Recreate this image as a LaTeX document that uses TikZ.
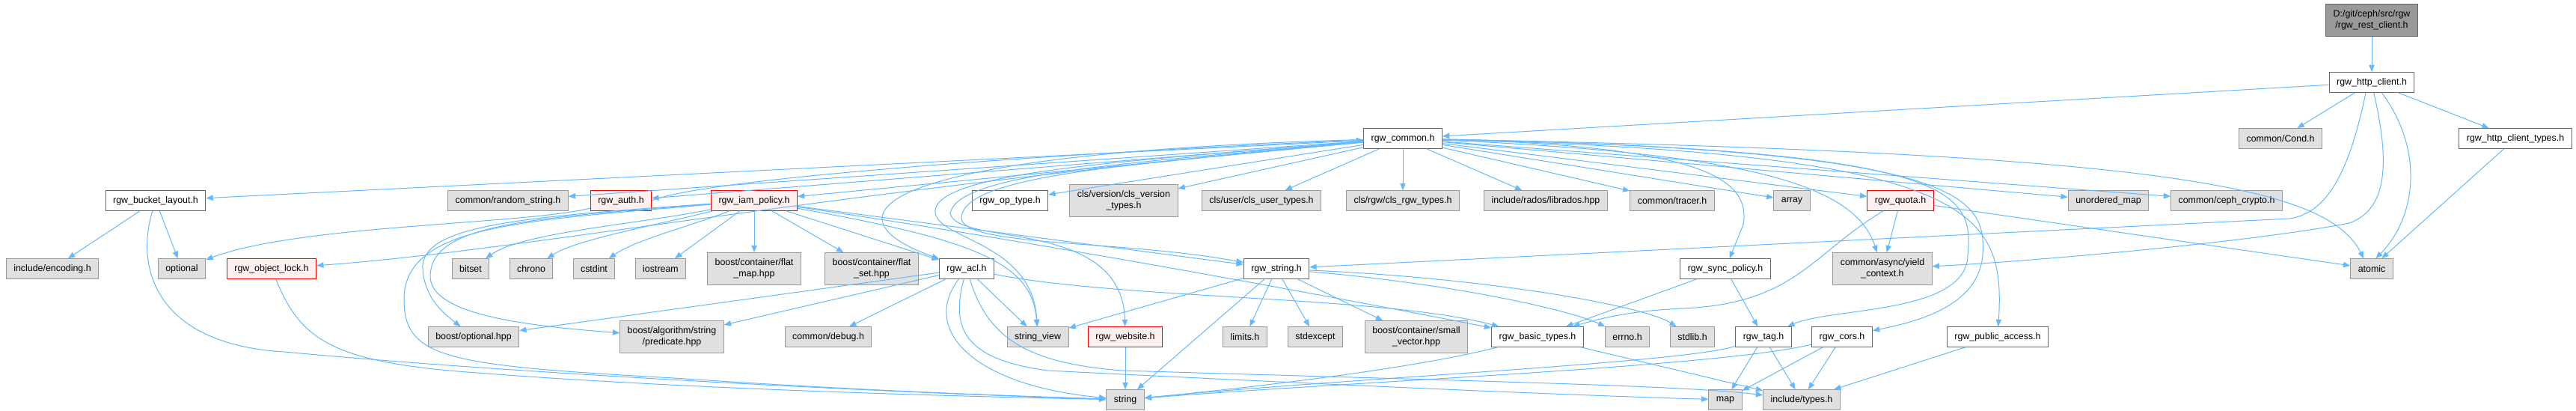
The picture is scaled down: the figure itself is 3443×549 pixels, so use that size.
\documentclass[tikz,border=0pt]{standalone}
\usepackage{fontspec}
\setsansfont{Liberation Sans}
\usetikzlibrary{arrows.meta}
\definecolor{edgeblue}{HTML}{63B8FF}
\definecolor{sysfill}{HTML}{E0E0E0}
\definecolor{sysline}{HTML}{999999}
\definecolor{hdrline}{HTML}{666666}
\definecolor{cutfill}{HTML}{FFF0F0}
\definecolor{cutline}{HTML}{FF0000}
\definecolor{rootfill}{HTML}{999999}
\tikzset{box/.style={draw,line width=0.75pt,align=center,minimum height=20pt,inner xsep=7.5pt,inner ysep=2pt,font=\sffamily\fontsize{9.3}{11}\selectfont},sys/.style={box,fill=sysfill,draw=sysline},hdr/.style={box,fill=white,draw=hdrline},cut/.style={box,fill=cutfill,draw=cutline},top/.style={box,fill=rootfill,draw=hdrline},tall/.style={minimum height=32pt},dep/.style={-{Triangle[length=7pt,width=5.5pt]},draw=edgeblue,line width=0.75pt}}

\begin{document}
\begin{tikzpicture}[x=0.75pt,y=-0.75pt]
\useasboundingbox (0,0) rectangle (3443,549);
% top of the graph
\node[top,tall] (root) at (3170,27) {D:/git/ceph/src/rgw\\/rgw\_rest\_client.h};
\node[hdr] (http) at (3170,110) {rgw\_http\_client.h};
\node[hdr] (common) at (1875,185) {rgw\_common.h};
\node[sys] (cond) at (3048,185) {common/Cond.h};
\node[hdr] (httptypes) at (3362,185) {rgw\_http\_client\_types.h};
% second row
\node[hdr] (bucket) at (208,268) {rgw\_bucket\_layout.h};
\node[sys] (randstr) at (679,268) {common/random\_string.h};
\node[cut] (auth) at (830,268) {rgw\_auth.h};
\node[cut] (iam) at (1008,268) {rgw\_iam\_policy.h};
\node[hdr] (optype) at (1350,268) {rgw\_op\_type.h};
\node[sys,tall] (clsver) at (1502,268) {cls/version/cls\_version\\\_types.h};
\node[sys] (clsuser) at (1686,268) {cls/user/cls\_user\_types.h};
\node[sys] (clsrgw) at (1875,268) {cls/rgw/cls\_rgw\_types.h};
\node[sys] (librados) at (2066,268) {include/rados/librados.hpp};
\node[sys] (tracer) at (2235,268) {common/tracer.h};
\node[sys] (array) at (2395,268) {array};
\node[cut] (quota) at (2540,268) {rgw\_quota.h};
\node[sys] (umap) at (2818,268) {unordered\_map};
\node[sys] (crypto) at (2976,268) {common/ceph\_crypto.h};
% third row
\node[sys] (encoding) at (70,359) {include/encoding.h};
\node[sys] (optional) at (243,359) {optional};
\node[cut] (objlock) at (363,359) {rgw\_object\_lock.h};
\node[sys] (bitset) at (629,359) {bitset};
\node[sys] (chrono) at (710,359) {chrono};
\node[sys] (cstdint) at (794,359) {cstdint};
\node[sys] (iostream) at (883,359) {iostream};
\node[sys,tall] (flatmap) at (1008,359) {boost/container/flat\\\_map.hpp};
\node[sys,tall] (flatset) at (1165,359) {boost/container/flat\\\_set.hpp};
\node[hdr] (acl) at (1292,359) {rgw\_acl.h};
\node[hdr] (rstring) at (1706,359) {rgw\_string.h};
\node[hdr] (syncpol) at (2306,359) {rgw\_sync\_policy.h};
\node[sys,tall] (yield) at (2516,359) {common/async/yield\\\_context.h};
\node[sys] (atomic) at (3170,359) {atomic};
% fourth row
\node[sys] (boptional) at (633,450) {boost/optional.hpp};
\node[sys,tall] (predicate) at (898,450) {boost/algorithm/string\\/predicate.hpp};
\node[sys] (debug) at (1107,450) {common/debug.h};
\node[sys] (strview) at (1387,450) {string\_view};
\node[cut] (website) at (1504,450) {rgw\_website.h};
\node[sys] (limits) at (1664,450) {limits.h};
\node[sys] (stdexcept) at (1758,450) {stdexcept};
\node[sys,tall] (smallvec) at (1893,450) {boost/container/small\\\_vector.hpp};
\node[hdr] (basic) at (2055,450) {rgw\_basic\_types.h};
\node[sys] (errno) at (2175,450) {errno.h};
\node[sys] (stdlib) at (2262,450) {stdlib.h};
\node[hdr] (tag) at (2357,450) {rgw\_tag.h};
\node[hdr] (cors) at (2462,450) {rgw\_cors.h};
\node[hdr] (pubacc) at (2670,450) {rgw\_public\_access.h};
% bottom row
\node[sys] (string) at (1504,534) {string};
\node[sys] (map) at (2306,534) {map};
\node[sys] (types) at (2408,534) {include/types.h};

% rgw_rest_client.h and rgw_http_client.h
\draw[dep] (root)--(http);
\draw[dep] (http)--(common); \draw[dep] (http)--(cond); \draw[dep] (http)--(httptypes);
\draw[dep] ([xshift=-6pt]http.south) .. controls (3140,230) and (3110,285) .. (3060,292) -- (rstring);
\draw[dep] ([xshift=2pt]http.south) .. controls (3195,220) and (3190,280) .. (3140,298) .. controls (3000,325) and (2700,350) .. (yield);
\draw[dep] ([xshift=10pt]http.south) .. controls (3240,200) and (3230,290) .. ([xshift=4pt]atomic.north);
\draw[dep] (httptypes)--([xshift=10pt]atomic.north);
% rgw_common.h
\draw[dep] (common)--(bucket); \draw[dep] (common)--(randstr); \draw[dep] (common)--(auth);
\draw[dep] (common)--(iam); \draw[dep] (common)--(optype); \draw[dep] (common)--(clsver);
\draw[dep] (common)--(clsuser); \draw[dep] (common)--(clsrgw); \draw[dep] (common)--(librados);
\draw[dep] (common)--(tracer); \draw[dep] (common)--(array); \draw[dep] (common)--(quota);
\draw[dep] (common)--(umap); \draw[dep] (common)--(crypto);
\draw[dep] (common) .. controls (2900,205) and (3110,250) .. ([xshift=-8pt]atomic.north);
\draw[dep] (common) .. controls (1100,255) and (700,335) .. (objlock);
\draw[dep] (common) .. controls (1150,205) and (1100,290) .. (acl);
\draw[dep] (common) .. controls (1500,215) and (1260,230) .. (1250,280) .. controls (1245,320) and (1380,320) .. (strview);
\draw[dep] (common) .. controls (1500,218) and (1280,232) .. (1270,285) .. controls (1280,330) and (1500,290) .. (website);
\draw[dep] (common) .. controls (1500,220) and (1290,235) .. (1285,290) .. controls (1282,330) and (1500,320) .. (rstring);
\draw[dep] (common) .. controls (2280,195) and (2340,240) .. (2330,300) -- (syncpol);
\draw[dep] (common) .. controls (2350,205) and (2480,250) .. (yield);
\draw[dep] (common) .. controls (2600,200) and (2640,250) .. (2630,340) .. controls (2630,420) and (2450,410) .. (tag);
\draw[dep] (common) .. controls (2620,200) and (2655,260) .. (2650,340) .. controls (2645,410) and (2560,430) .. (cors);
\draw[dep] (common) .. controls (2640,205) and (2680,280) .. (pubacc);
% second row
\draw[dep] (auth.east) .. controls (950,235) and (1500,200) .. (common);
\draw[dep] (auth) .. controls (700,300) and (400,300) .. (optional);
\draw[dep] (bucket)--(encoding); \draw[dep] (bucket)--(optional);
\draw[dep] (bucket) .. controls (180,360) and (210,460) .. (380,470) .. controls (700,500) and (1200,525) .. (string);
\draw[dep] (iam) .. controls (850,300) and (700,310) .. (bitset);
\draw[dep] (iam) .. controls (880,300) and (770,320) .. (chrono);
\draw[dep] (iam) .. controls (930,300) and (850,320) .. (cstdint);
\draw[dep] (iam)--(iostream); \draw[dep] (iam)--(flatmap); \draw[dep] (iam)--(flatset);
\draw[dep] (iam)--(acl); \draw[dep] (iam)--(rstring);
\draw[dep] (iam) .. controls (1400,325) and (1800,400) .. (basic);
\draw[dep] (iam) .. controls (1300,320) and (1380,350) .. (strview);
\draw[dep] (iam) .. controls (700,290) and (560,300) .. (565,360) .. controls (568,400) and (595,420) .. (boptional);
\draw[dep] (iam) .. controls (700,292) and (575,300) .. (575,370) .. controls (577,420) and (700,435) .. (predicate);
\draw[dep] (iam) .. controls (700,295) and (540,300) .. (540,400) .. controls (540,480) and (600,488) .. (900,505) .. controls (1200,525) and (1400,530) .. (string);
\draw[dep] (quota)--(atomic); \draw[dep] (quota)--(yield);
\draw[dep] (quota) .. controls (2420,340) and (2400,405) .. (2250,412) .. controls (2180,415) and (2140,425) .. (basic);
% third row
\draw[dep] (objlock) .. controls (400,450) and (440,480) .. (600,495) .. controls (900,520) and (1300,530) .. (string);
\draw[dep] (acl)--(predicate); \draw[dep] (acl)--(boptional); \draw[dep] (acl)--(debug); \draw[dep] (acl)--(strview);
\draw[dep] (acl) .. controls (1230,440) and (1300,515) .. (string);
\draw[dep] (acl) .. controls (1270,440) and (1290,480) .. (1400,495) .. controls (1800,515) and (2100,528) .. (map);
\draw[dep] (acl) .. controls (1320,450) and (1370,485) .. (1500,495) .. controls (2000,510) and (2250,515) .. (types);
\draw[dep] (acl) .. controls (1500,400) and (1850,395) .. (basic);
\draw[dep] (rstring)--(strview); \draw[dep] (rstring)--(string); \draw[dep] (rstring)--(limits);
\draw[dep] (rstring)--(stdexcept); \draw[dep] (rstring)--(smallvec);
\draw[dep] (rstring) .. controls (1950,380) and (2100,415) .. (errno);
\draw[dep] (rstring) .. controls (2000,372) and (2200,410) .. (stdlib);
\draw[dep] (syncpol)--(basic); \draw[dep] (syncpol)--(tag);
% fourth row
\draw[dep] (website)--(string);
\draw[dep] (basic) .. controls (1900,490) and (1700,515) .. (string); \draw[dep] (basic)--(types);
\draw[dep] (tag)--(map); \draw[dep] (tag)--(types);
\draw[dep] (tag) .. controls (2250,485) and (1800,505) .. (string);
\draw[dep] (cors)--(map); \draw[dep] (cors)--(types);
\draw[dep] (cors) .. controls (2300,490) and (1800,510) .. (string);
\draw[dep] (pubacc)--(types);
\end{tikzpicture}
\end{document}
